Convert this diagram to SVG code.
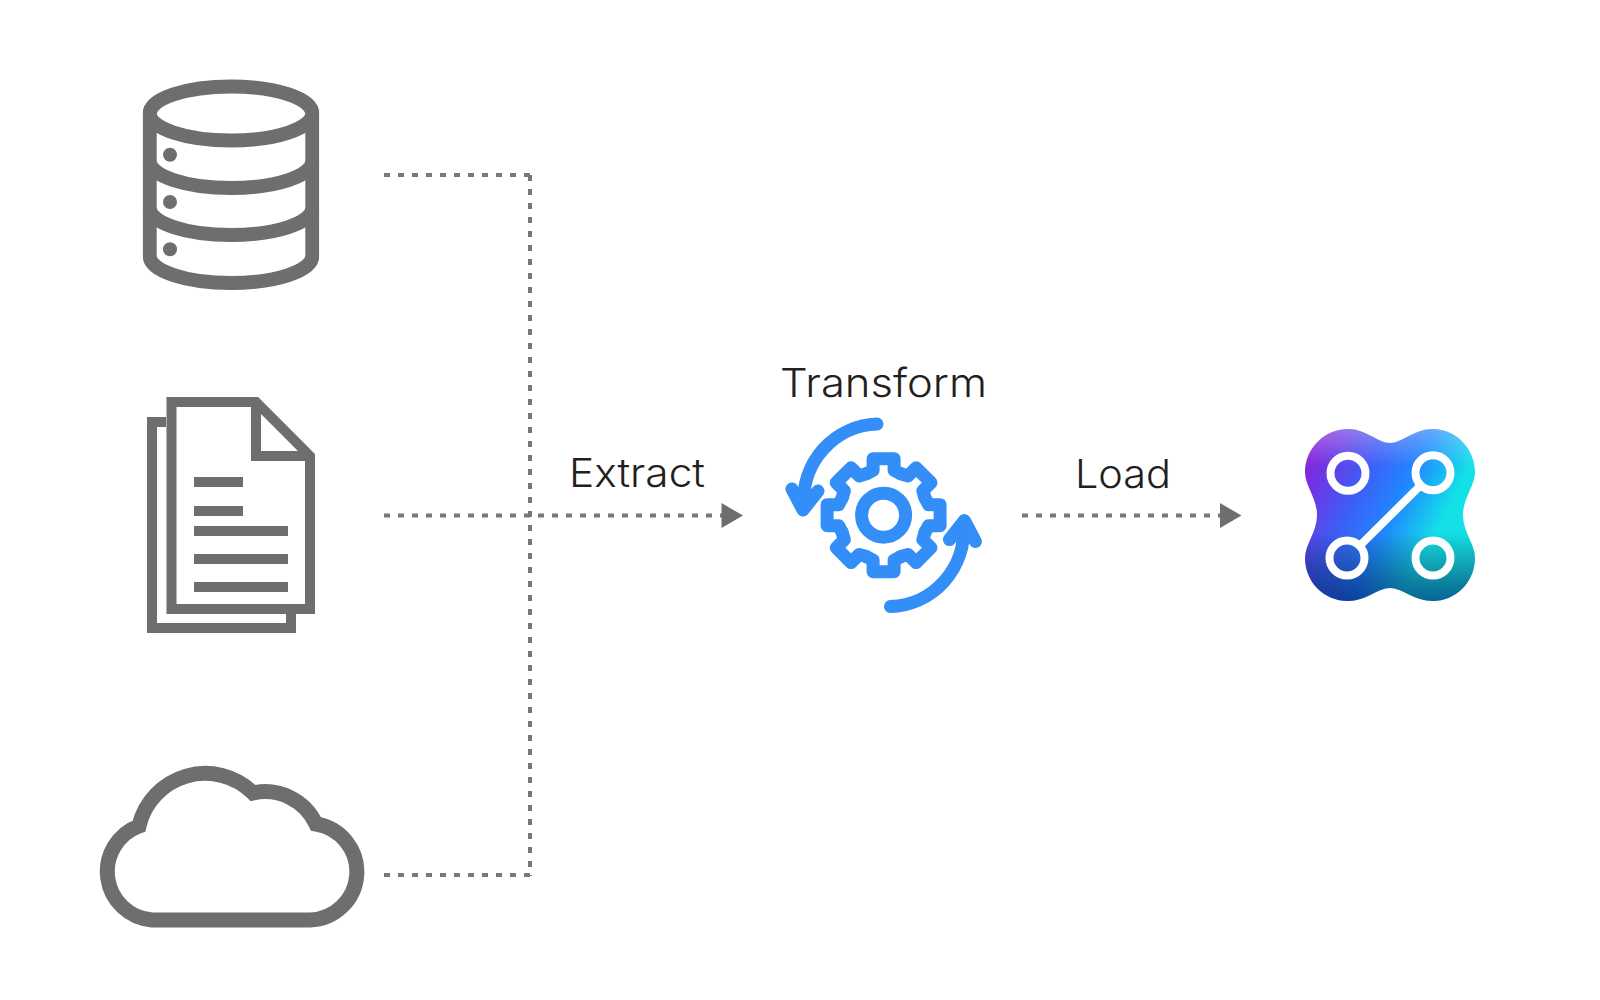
<svg xmlns="http://www.w3.org/2000/svg" xmlns:xlink="http://www.w3.org/1999/xlink" width="1600" height="1000" viewBox="0 0 1600 1000">
<style>
.g{fill:none;stroke:#6d6e70}
.b{fill:none;stroke:#338ef7;stroke-width:13;stroke-linecap:round;stroke-linejoin:round}
.d{fill:none;stroke:#777879;stroke-width:4;stroke-dasharray:6 8}
.h{fill:#6d6e70}
.t{font-family:Inter,"Liberation Sans",sans-serif;font-weight:300;font-size:39px;fill:#231f20}
.w{fill:none;stroke:#fff;stroke-width:8}
</style>
<defs>
<linearGradient id="lg" x1="0" y1=".15" x2="1" y2=".65">
<stop offset="0" stop-color="#8a20d8"/><stop offset=".32" stop-color="#3f5cf6"/><stop offset=".55" stop-color="#1f88ff"/><stop offset=".8" stop-color="#14e0e8"/>
</linearGradient>
<linearGradient id="lv" x1="0" x2="0" y1="0" y2="1">
<stop offset="0" stop-color="#fff" stop-opacity=".3"/><stop offset=".22" stop-color="#fff" stop-opacity="0"/><stop offset=".6" stop-color="#000" stop-opacity="0"/><stop offset="1" stop-color="#001060" stop-opacity=".6"/>
</linearGradient>
<clipPath id="dbclip"><rect x="142.7" y="70" width="176.6" height="230"/></clipPath>
<path id="blob" d="M1390,443C1378,443 1366,429 1348,429C1324,429 1305,449 1305,472C1305,486 1317,498 1317,515C1317,532 1305,544 1305,558C1305,582 1324,601 1348,601C1366,601 1378,588 1390,588C1402,588 1414,601 1433,601C1456,601 1475,582 1475,558C1475,544 1463,532 1463,515C1463,498 1475,486 1475,472C1475,449 1456,429 1433,429C1414,429 1402,443 1390,443Z"/>
<path id="tooth" class="b" d="M-17,-41.5L-10.5,-45V-56.5H10.5V-45L17,-41.5"/>
<path id="turn" class="b" d="M877,424A76,76 0 0 0 804,505M792,489L803,510L818,491"/>
</defs>
<rect width="1600" height="1000" fill="#fff"/>
<g id="connectors">
<path class="d" d="M384,175H530"/>
<path class="d" d="M530,175V876"/>
<path class="d" d="M384,875H530"/>
<path class="d" d="M384,515.6H723"/>
<path class="h" d="M721.5,503L743,515.6L721.5,528Z"/>
<path class="d" d="M1022,515.6H1222"/>
<path class="h" d="M1220,503L1241.5,515.6L1220,528Z"/>
</g>
<g id="database">
<g class="g" stroke-width="14" clip-path="url(#dbclip)">
<ellipse cx="231" cy="113.5" rx="81.3" ry="27"/>
<path d="M149.7,113.5V256A81.3,27 0 0 0 312.3,256V113.5"/>
<path d="M149.7,161A81.3,27 0 0 0 312.3,161"/>
<path d="M149.7,208A81.3,27 0 0 0 312.3,208"/>
</g>
<g class="h"><circle cx="170" cy="154.7" r="7"/><circle cx="170" cy="202" r="7"/><circle cx="170" cy="249.3" r="7"/></g>
</g>
<g id="documents">
<g class="g" stroke-width="10">
<path d="M171.5,402H256L310,456V609H171.5Z"/>
<path d="M256,402V456H310"/>
<path d="M166,422H152V628H291V614"/>
</g>
<g class="h">
<rect x="194" y="477" width="49" height="10"/><rect x="194" y="506" width="49" height="10"/>
<rect x="194" y="526" width="94" height="10"/><rect x="194" y="554" width="94" height="10"/><rect x="194" y="582" width="94" height="10"/>
</g>
</g>
<g id="cloud">
<path class="g" stroke-width="15" d="M152,920H310A48.3,48.3 0 0 0 316,824A56,56 0 0 0 253,793A68,68 0 0 0 139,826A48.6,48.6 0 0 0 152,920Z"/>
</g>
<g id="extract-label"><text class="t" x="569" y="487" textLength="136" lengthAdjust="spacingAndGlyphs">Extract</text></g>
<g id="transform">
<text class="t" x="780" y="397" textLength="207" lengthAdjust="spacingAndGlyphs">Transform</text>
<g transform="translate(883.6 515.2)">
<use xlink:href="#tooth" href="#tooth"/>
<use xlink:href="#tooth" href="#tooth" transform="rotate(45)"/>
<use xlink:href="#tooth" href="#tooth" transform="rotate(90)"/>
<use xlink:href="#tooth" href="#tooth" transform="rotate(135)"/>
<use xlink:href="#tooth" href="#tooth" transform="rotate(180)"/>
<use xlink:href="#tooth" href="#tooth" transform="rotate(225)"/>
<use xlink:href="#tooth" href="#tooth" transform="rotate(270)"/>
<use xlink:href="#tooth" href="#tooth" transform="rotate(315)"/>
<circle class="b" r="22"/>
</g>
<use xlink:href="#turn" href="#turn"/>
<use xlink:href="#turn" href="#turn" transform="rotate(180 883.7 515.3)"/>
</g>
<g id="load-label"><text class="t" x="1075" y="487.5" textLength="96" lengthAdjust="spacingAndGlyphs">Load</text></g>
<g id="logo">
<use xlink:href="#blob" href="#blob" fill="url(#lg)"/>
<use xlink:href="#blob" href="#blob" fill="url(#lv)"/>
<circle class="w" cx="1348" cy="473.3" r="17.5"/>
<circle class="w" cx="1433" cy="472.7" r="17.5"/>
<circle class="w" cx="1347" cy="558" r="17.5"/>
<circle class="w" cx="1433" cy="558" r="17.5"/>
<path class="w" d="M1360,545.5L1421,485"/>
</g>
</svg>
